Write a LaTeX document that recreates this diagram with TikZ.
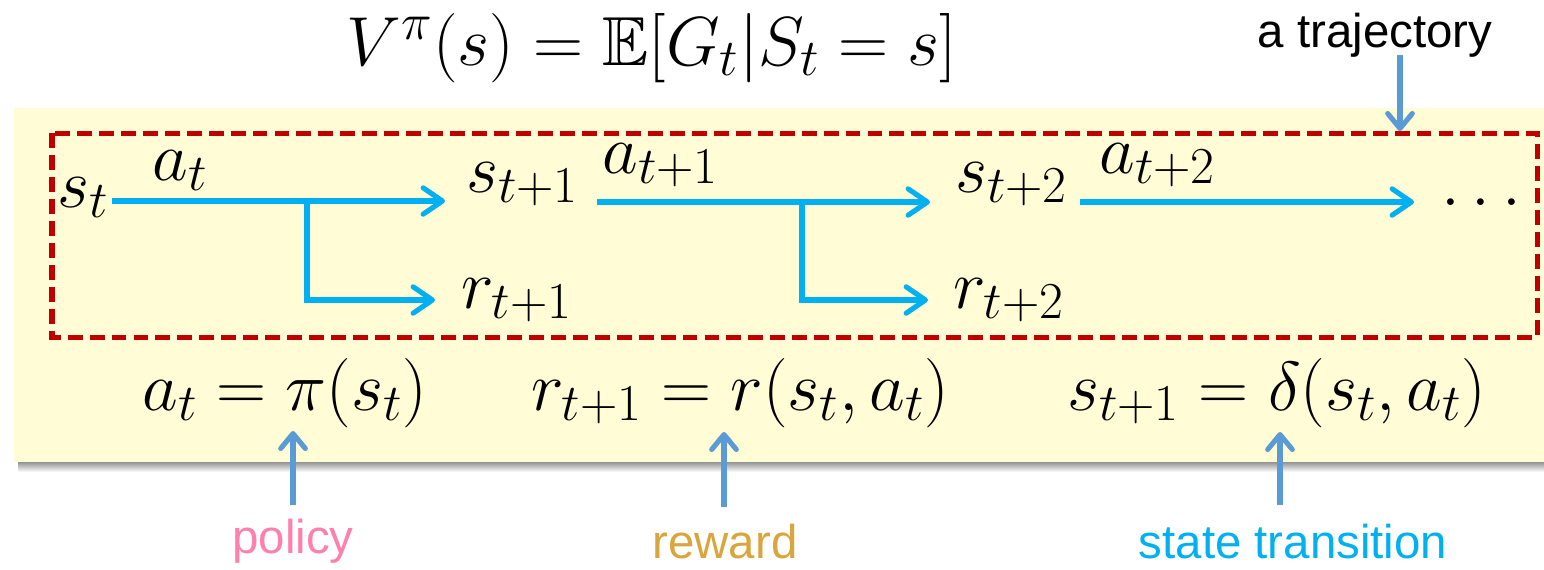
\RequirePackage{fix-cm}
\documentclass[tikz,border=0pt]{standalone}
\usepackage{fontspec}
\usepackage{amssymb}
\DeclareMathSizes{39.5}{39.5}{29.5}{20}
\newfontfamily\sansfnt{Liberation Sans}
\usetikzlibrary{arrows.meta}
\definecolor{boxyellow}{RGB}{255,252,214}
\definecolor{trajred}{RGB}{192,0,0}
\definecolor{flowcyan}{RGB}{0,176,240}
\definecolor{notebl}{RGB}{91,155,213}
\definecolor{polpink}{RGB}{255,128,170}
\definecolor{rewgold}{RGB}{218,165,60}
\begin{document}
\begin{tikzpicture}[x=0.02cm,y=-0.02cm,
  m/.style={inner sep=0pt, anchor=base west, font=\fontsize{39.5}{46}\selectfont},
  lab/.style={inner sep=0pt, anchor=base, font=\sansfnt\fontsize{27}{32}\selectfont},
  flow/.style={draw=flowcyan, line width=2.9pt, line join=miter, -{Straight Barb[length=11pt,width=15pt,round]}},
  note/.style={draw=notebl, line width=2.9pt, -{Straight Barb[length=8.5pt,width=14pt,round]}}]
\useasboundingbox (0,0) rectangle (1544,569);
% box with shadow
\shade[top color=black!55, bottom color=white] (18,459) rectangle (1544,472);
\fill[boxyellow] (14,108) rectangle (1544,462);
\draw[trajred, line width=2.85pt, dash pattern=on 8.5pt off 4pt] (52,133) rectangle (1537,337);
% top formula
\node[inner sep=0pt, anchor=base, font=\fontsize{39.5}{46}\selectfont] (vf) at (652,65) {$V^{\pi}(s)=\mathbb{E}[G_t|S_t=s]$};
\node[lab] (traj) at (1375,47) {a trajectory};
% trajectory nodes
\node[m] (st) at (57,207) {$s_t$};
\node[m] (at) at (152,180) {$a_t$};
\node[m] (st1) at (466,192) {$s_{t+1}$};
\node[m] (at1) at (602,173) {$a_{t+1}$};
\node[m] (st2) at (955,192) {$s_{t+2}$};
\node[m] (at2) at (1099,173) {$a_{t+2}$};
\node[m] (dots) at (1441,205) {$\dots$};
\node[m] (rt1) at (461,308) {$r_{t+1}$};
\node[m] (rt2) at (953,308) {$r_{t+2}$};
% equations
\node[m] (eq1) at (142,410) {$a_t=\pi(s_t)$};
\node[m] (eq2) at (531,410) {$r_{t+1}=r(s_t,a_t)$};
\node[m] (eq3) at (1067,410) {$s_{t+1}=\delta(s_t,a_t)$};
% labels
\node[lab, text=polpink] (pol) at (293,553) {policy};
\node[lab, text=rewgold] (rew) at (725,558) {reward};
\node[lab, text=flowcyan] (trans) at (1293,558) {state transition};
% coordinates
\coordinate (a1s) at (112,201); \coordinate (a1e) at (445,201);
\coordinate (b1) at (307,201); \coordinate (b1d) at (307,300); \coordinate (r1e) at (435,300);
\coordinate (a2s) at (597,202); \coordinate (a2e) at (930,202);
\coordinate (b2) at (802,202); \coordinate (b2d) at (802,300); \coordinate (r2e) at (928,300);
\coordinate (a3s) at (1080,202); \coordinate (a3e) at (1414,202);
\coordinate (tjs) at (1400,55); \coordinate (tje) at (1400,131);
\coordinate (pols) at (293,505); \coordinate (pole) at (293,431);
\coordinate (rews) at (724,507); \coordinate (rewe) at (724,432);
\coordinate (trs) at (1280,505); \coordinate (tre) at (1280,432);
% flows
\draw[flow] (a1s) -- (a1e);
\draw[flow] (b1) -- (b1d) -- (r1e);
\draw[flow] (a2s) -- (a2e);
\draw[flow] (b2) -- (b2d) -- (r2e);
\draw[flow] (a3s) -- (a3e);
% notes
\draw[note] (tjs) -- (tje);
\draw[note] (pols) -- (pole);
\draw[note] (rews) -- (rewe);
\draw[note] (trs) -- (tre);
\end{tikzpicture}
\end{document}
